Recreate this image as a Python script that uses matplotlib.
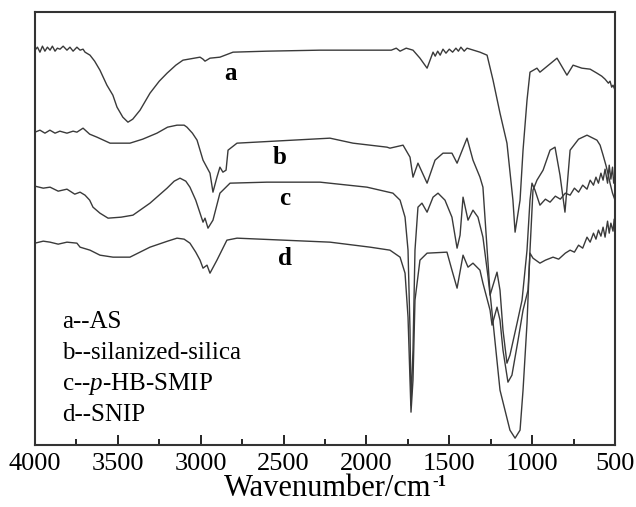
import matplotlib
matplotlib.use("Agg")
import matplotlib.pyplot as plt
from matplotlib.ticker import MultipleLocator

plt.rcParams['font.family'] = 'Liberation Serif'
plt.rcParams['mathtext.fontset'] = 'custom'
plt.rcParams['mathtext.rm'] = 'Liberation Serif'
plt.rcParams['mathtext.it'] = 'Liberation Serif:italic'

# spectra (transmittance, arbitrary units, already offset)
wn_a = [4000, 3985, 3970, 3955, 3940, 3925, 3909, 3895, 3879, 3865, 3849, 3830, 3807, 3789,
        3770, 3747, 3728, 3710, 3698, 3668, 3640, 3608, 3566, 3530, 3505, 3470, 3439, 3410,
        3366, 3306, 3250, 3203, 3150, 3107, 3004, 2986, 2974, 2944, 2884, 2805, 2600, 2280,
        1850, 1820, 1797, 1760, 1719, 1677, 1634, 1598, 1585, 1570, 1555, 1538, 1520, 1500,
        1480, 1460, 1445, 1430, 1410, 1393, 1315, 1272, 1236, 1194, 1152, 1116, 1103, 1073,
        1055, 1031, 1013, 971, 953, 850, 790, 753, 700, 650, 609, 580, 560, 540, 530, 520,
        512, 500]
tr_a = [395, 398, 393, 399, 394, 398, 395, 399, 394, 397, 396, 399, 395, 398,
        394, 398, 395, 396, 393, 390, 384, 375, 360, 350, 338, 328, 323, 326,
        335, 352, 364, 372, 380, 385, 388, 386, 384, 387, 388, 393, 394, 395,
        395, 397, 394, 397, 395, 387, 377, 393, 389, 394, 390, 396, 392, 396,
        393, 397, 394, 398, 394, 397, 393, 390, 365, 332, 302, 245, 213, 245,
        295, 345, 373, 377, 373, 387, 370, 380, 377, 376, 372, 369, 366, 362, 364, 358,
        360, 355]

wn_b = [4000, 3970, 3940, 3910, 3879, 3850, 3807, 3770, 3747, 3710, 3670, 3626, 3547, 3427,
        3350, 3264, 3200, 3143, 3100, 3083, 3050, 3022, 2986, 2944, 2926, 2902, 2884, 2866,
        2847, 2835, 2781, 2220, 2081, 1876, 1858, 1779, 1737, 1719, 1689, 1634, 1586, 1538,
        1484, 1453, 1393, 1357, 1315, 1297, 1254, 1194, 1134, 1103, 1073, 1055, 1031, 1013,
        995, 971, 934, 892, 862, 832, 802, 771, 720, 669, 609, 590, 572, 555, 540, 530, 515,
        500]
tr_b = [313, 315, 312, 315, 312, 314, 312, 314, 313, 317, 311, 308, 302, 302,
        306, 312, 318, 320, 320, 318, 312, 305, 285, 272, 253, 268, 278, 273,
        275, 295, 302, 307, 302, 298, 297, 300, 288, 268, 282, 262, 285, 292,
        292, 282, 307, 285, 268, 258, 152, 55, 15, 7, 15, 55, 122, 195,
        255, 265, 275, 295, 298, 270, 233, 295, 306, 310, 305, 300, 290, 280, 270, 262, 252,
        245]

wn_c = [4000, 3950, 3909, 3860, 3807, 3760, 3728, 3698, 3670, 3650, 3608, 3559, 3480, 3409,
        3306, 3203, 3160, 3125, 3090, 3065, 3030, 3004, 2986, 2974, 2956, 2926, 2884, 2823,
        2600, 2280, 1997, 1840, 1797, 1767, 1749, 1737, 1731, 1719, 1707, 1689, 1665, 1634,
        1598, 1568, 1526, 1484, 1453, 1435, 1417, 1387, 1357, 1327, 1297, 1266, 1254, 1236,
        1212, 1194, 1176, 1152, 1134, 1091, 1061, 1031, 1013, 1001, 983, 953, 920, 892, 860,
        830, 800, 771, 745, 720, 695, 669, 650, 630, 615, 600, 585, 572, 560, 545, 535, 525,
        515, 508, 500]
tr_c = [259, 257, 258, 254, 256, 251, 253, 250, 245, 238, 232, 227, 228, 230,
        242, 257, 264, 267, 264, 258, 245, 232, 223, 227, 217, 225, 252, 262,
        263, 263, 258, 252, 245, 228, 195, 115, 40, 95, 195, 238, 242, 233,
        248, 252, 245, 228, 197, 210, 248, 225, 235, 228, 208, 168, 150, 160,
        173, 155, 115, 82, 90, 122, 145, 195, 245, 262, 255, 240, 246, 243, 249,
        246, 252, 250, 257, 253, 260, 256, 265, 260, 268, 262, 272, 265, 276, 262, 280, 266,
        278, 262, 270]

wn_d = [4000, 3950, 3909, 3860, 3807, 3747, 3728, 3668, 3608, 3529, 3427, 3306, 3200, 3143,
        3100, 3065, 3030, 3004, 2986, 2962, 2944, 2902, 2842, 2781, 2220, 1978, 1858, 1797,
        1767, 1749, 1731, 1719, 1707, 1677, 1634, 1514, 1484, 1453, 1417, 1387, 1357, 1315,
        1297, 1254, 1242, 1212, 1194, 1176, 1146, 1122, 1085, 1055, 1025, 1013, 995, 953,
        920, 874, 840, 800, 771, 745, 720, 695, 669, 650, 630, 615, 600, 585, 572, 560, 545,
        535, 525, 512, 505, 500]
tr_d = [202, 204, 203, 201, 203, 202, 198, 195, 190, 188, 188, 198, 204, 207,
        206, 202, 193, 185, 177, 180, 172, 185, 205, 207, 203, 198, 195, 188,
        172, 128, 33, 65, 145, 185, 192, 193, 175, 157, 190, 178, 182, 175,
        162, 135, 120, 138, 125, 95, 63, 70, 105, 135, 155, 192, 187, 182,
        185, 188, 186, 192, 195, 193, 200, 197, 208, 203, 212, 206, 215, 209, 218, 208,
        224, 212, 222, 214, 226, 215]

labels = ['a', 'b', 'c', 'd']
label_pos = [(2823, 372), (2522, 288), (2491, 247), (2491, 187)]
legend_lines = ['a--AS', 'b--silanized-silica', 'c--$p$-HB-SMIP', 'd--SNIP']

fig = plt.figure(figsize=(6.36, 5.07), dpi=100)
ax = fig.add_axes([0.055, 0.122, 0.912, 0.854])

for wn, tr in [(wn_a, tr_a), (wn_b, tr_b), (wn_c, tr_c), (wn_d, tr_d)]:
    ax.plot(wn, tr, color='#3a3a3a', lw=1.0)

for lab, (x, y) in zip(labels, label_pos):
    ax.text(x, y, lab, fontsize=18, fontweight='bold', ha='center', va='center')

for i, txt in enumerate(legend_lines):
    ax.text(3837, 123 - i * 31, txt, fontsize=18, ha='left', va='center')

ax.set_xlim(4000, 500)
ax.set_ylim(0, 433)
ax.xaxis.set_major_locator(MultipleLocator(500))
ax.xaxis.set_minor_locator(MultipleLocator(250))
ax.tick_params(axis='x', which='major', direction='in', length=7, width=1.2, labelsize=19, pad=6)
ax.tick_params(axis='x', which='minor', direction='in', length=4, width=1.2)
ax.set_yticks([])
for s in ax.spines.values():
    s.set_linewidth(1.5)
    s.set_color('#333333')

# x label under the tick labels, with the -1 raised
xlab = fig.text(0.515, 0.022, 'Wavenumber/cm', fontsize=22, ha='center', va='baseline')
fig.canvas.draw()
bb = xlab.get_window_extent().transformed(fig.transFigure.inverted())
fig.text(bb.x1 + 0.002, bb.y1 - 0.024, '-1', fontsize=12, fontweight='bold',
         ha='left', va='baseline')

fig.savefig('out.png', dpi=100)
